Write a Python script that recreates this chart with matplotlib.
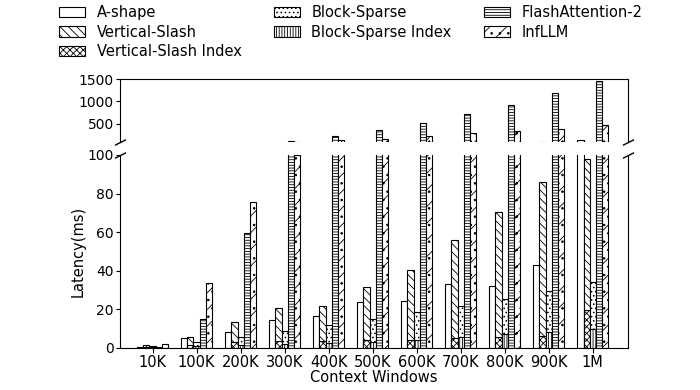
import numpy as np
from matplotlib import pyplot as plt

plt.rcParams['font.size'] = 10.5
plt.rcParams['hatch.linewidth'] = 0.6

categories = ['10K', '100K', '200K', '300K', '400K', '500K', '600K', '700K', '800K', '900K', '1M']

a_shape = [0.7, 5.0, 8.2, 14.5, 16.4, 23.7, 24.2, 32.9, 31.9, 43.0, 140]
vertical_slash = [1.6, 5.9, 13.4, 20.6, 21.6, 31.7, 40.4, 55.9, 70.6, 86.2, 98]
vs_index = [0.4, 1.5, 3.0, 3.5, 3.5, 4.2, 4.4, 5.2, 5.9, 6.1, 19.5]
block_sparse = [0.9, 3.3, 5.9, 8.7, 12.0, 15.2, 18.8, 22.0, 25.6, 29.4, 34.0]
bs_index = [0.3, 1.0, 1.6, 2.0, 2.8, 3.3, 4.4, 5.9, 7.0, 8.5, 9.6]
flash_attn = [0.5, 15.0, 59.6, 122, 215, 352, 517, 712, 930, 1200, 1462]
infllm = [2.2, 33.7, 75.6, 100, 143, 166, 217, 292, 330, 390, 465]

# (label, values, slot in group, hatch)
series = [
    ('A-shape', a_shape, -2, ''),
    ('Vertical-Slash', vertical_slash, -1, '\\\\\\\\'),
    ('Vertical-Slash Index', vs_index, -1, 'xxxxx'),
    ('Block-Sparse', block_sparse, 0, '....'),
    ('Block-Sparse Index', bs_index, 0, '||||||'),
    ('FlashAttention-2', flash_attn, 1, '------'),
    ('InfLLM', infllm, 2, '//..'),
]

x = np.arange(len(categories))
width = 0.14

fig = plt.figure(figsize=(7, 3.9), dpi=100)
ax_top = fig.add_axes([0.1714, 0.636, 0.7257, 0.161])
ax_bot = fig.add_axes([0.1714, 0.1077, 0.7257, 0.4949])

handles = []
for ax in (ax_top, ax_bot):
    for label, values, slot, hatch in series:
        bars = ax.bar(x + slot * width, values, width, label=label, color='white',
                      edgecolor='black', linewidth=0.8, hatch=hatch)
        if ax is ax_bot:
            handles.append(bars)

ax_top.set_ylim(90, 1500)
ax_top.set_yticks([500, 1000, 1500])
ax_bot.set_ylim(0, 100)
ax_bot.set_yticks([0, 20, 40, 60, 80, 100])
for ax in (ax_top, ax_bot):
    ax.set_xlim(-0.74, 10.8)
    ax.tick_params(axis='y', pad=1.5, length=3, labelsize=10)

ax_top.spines['bottom'].set_visible(False)
ax_top.tick_params(axis='x', bottom=False, labelbottom=False)
ax_bot.spines['top'].set_visible(False)
ax_bot.set_xticks(x)
ax_bot.set_xticklabels(categories)
ax_bot.tick_params(axis='x', pad=1.5)

ax_bot.set_xlabel('Context Windows', labelpad=0)
ax_bot.set_ylabel('Latency(ms)', labelpad=1)

# break marks
d = .5
kw = dict(marker=[(-1, -d), (1, d)], markersize=8, linestyle='none',
          color='k', mec='k', mew=1, clip_on=False)
ax_top.plot([0, 1], [0, 0], transform=ax_top.transAxes, **kw)
ax_bot.plot([0, 1], [1, 1], transform=ax_bot.transAxes, **kw)

fig.legend(handles, [s[0] for s in series], ncol=3, loc='upper left',
           bbox_to_anchor=(0.065, 1.02), frameon=False, handlelength=1.8,
           labelspacing=0.3, columnspacing=2.2)

fig.savefig('out.png', dpi=100)
